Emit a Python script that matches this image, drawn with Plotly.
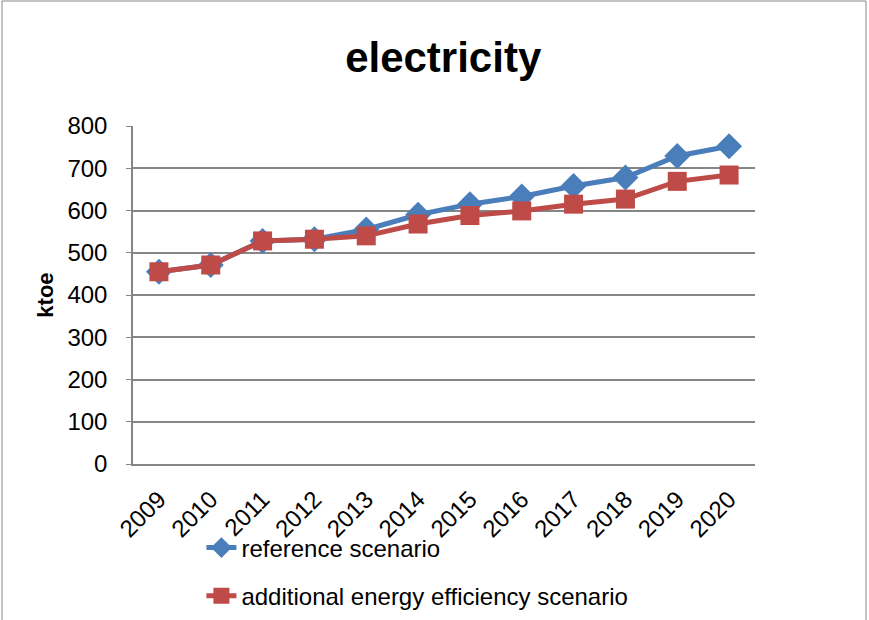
import plotly.graph_objects as go

years = ["2009", "2010", "2011", "2012", "2013", "2014", "2015", "2016", "2017", "2018", "2019", "2020"]
reference = [455, 471, 528, 532, 555, 590, 615, 633, 658, 678, 729, 752]
additional = [455, 471, 528, 532, 540, 568, 588, 599, 615, 627, 669, 684]
y_ticks = [0, 100, 200, 300, 400, 500, 600, 700, 800]

FONT = "Liberation Sans, Arial, sans-serif"

fig = go.Figure()
fig.add_trace(go.Scatter(
    x=years, y=reference, name="reference scenario", mode="lines+markers",
    legendgroup="a",
    line=dict(color="#4A7EBB", width=5),
    marker=dict(symbol="diamond", size=20, color="#4A7EBB"),
))
fig.add_trace(go.Scatter(
    x=years, y=additional, name="additional energy efficiency scenario", mode="lines+markers",
    legendgroup="b",
    line=dict(color="#BE4B48", width=5),
    marker=dict(symbol="square", size=19, color="#BE4B48"),
))

fig.update_layout(
    width=869, height=620,
    margin=dict(l=133, r=114, t=126, b=156, autoexpand=False),
    paper_bgcolor="white", plot_bgcolor="white",
    font=dict(family=FONT, size=22, color="black"),
    title=dict(text="<b>electricity</b>", x=0.51, xanchor="center", y=0.908, yanchor="middle",
               font=dict(family=FONT, size=42, color="black")),
    showlegend=True,
    legend=dict(x=0.11, y=-0.182, xanchor="left", yanchor="top", orientation="v",
                font=dict(family=FONT, size=24), tracegroupgap=14, bgcolor="rgba(0,0,0,0)"),
    xaxis=dict(type="category", range=[-0.5, len(years) - 0.5], tickangle=-45, showgrid=False,
               showline=True, linecolor="#868686", linewidth=1.5, ticks="", tickfont=dict(size=24),
               ticklabelstandoff=10),
    yaxis=dict(range=[0, 800], tickvals=y_ticks, showgrid=True, gridcolor="#868686", gridwidth=1.5,
               showline=True, linecolor="#868686", linewidth=1.5, ticks="outside", ticklen=5,
               tickcolor="#868686", zeroline=False, tickfont=dict(size=24),
               ticklabelstandoff=14,
               title=dict(text="<b>ktoe</b>", font=dict(size=22), standoff=8)),
)

# outer chart border
fig.add_shape(type="rect", xref="paper", yref="paper",
              x0=(2 - 133) / 622, x1=(866 - 133) / 622, y0=(464 - 640) / 338, y1=(464 - 1) / 338,
              line=dict(color="#868686", width=1), fillcolor="rgba(0,0,0,0)", layer="below")

fig.write_html("out.html", config={"displayModeBar": False},
               post_script="document.body.style.margin='0';document.body.style.overflow='hidden';")
